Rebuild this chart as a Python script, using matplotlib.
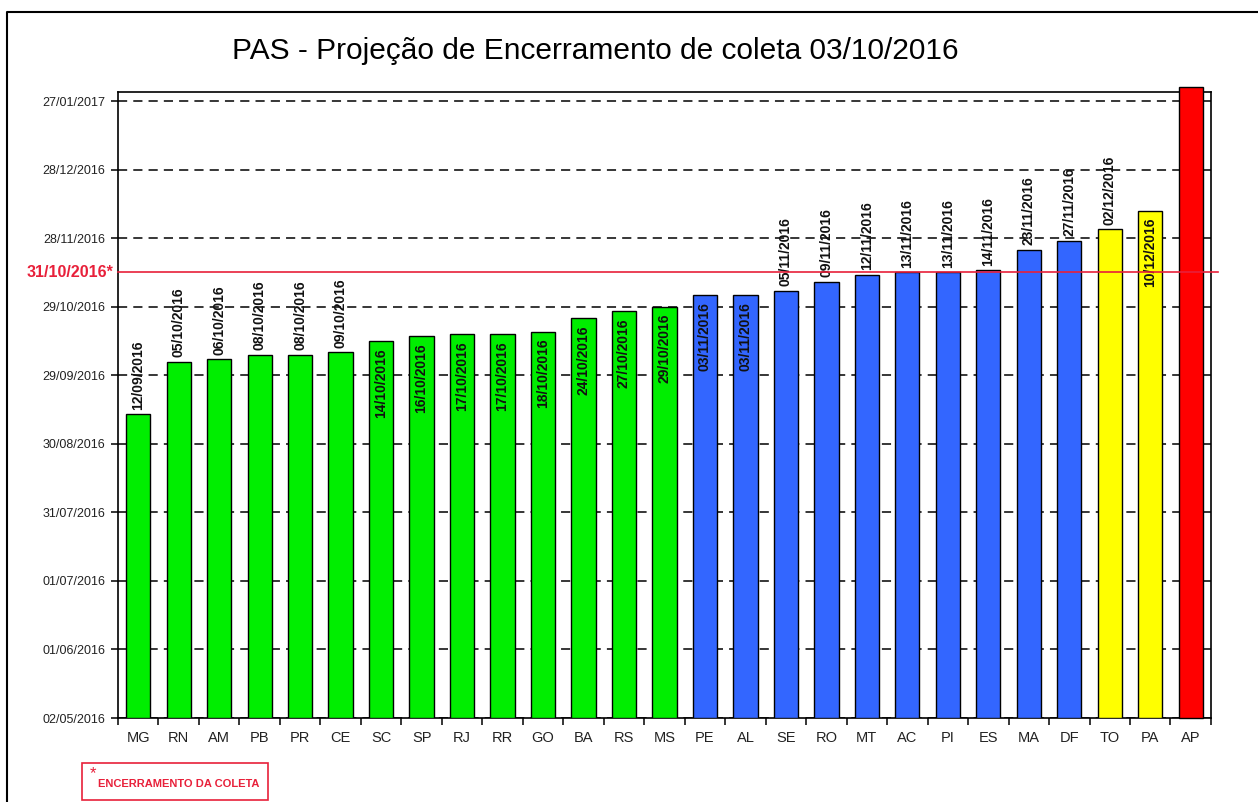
import datetime as dt
import numpy as np
import matplotlib
matplotlib.use("Agg")
import matplotlib.pyplot as plt
import matplotlib.dates as mdates
from matplotlib.patches import Rectangle
from matplotlib.lines import Line2D

plt.rcParams['font.family'] = ['Liberation Sans', 'DejaVu Sans']

# dados
estados = ["MG", "RN", "AM", "PB", "PR", "CE", "SC", "SP", "RJ", "RR", "GO", "BA", "RS", "MS",
           "PE", "AL", "SE", "RO", "MT", "AC", "PI", "ES", "MA", "DF", "TO", "PA", "AP"]
datas = ["12/09/2016", "05/10/2016", "06/10/2016", "08/10/2016", "08/10/2016", "09/10/2016",
         "14/10/2016", "16/10/2016", "17/10/2016", "17/10/2016", "18/10/2016", "24/10/2016",
         "27/10/2016", "29/10/2016", "03/11/2016", "03/11/2016", "05/11/2016", "09/11/2016",
         "12/11/2016", "13/11/2016", "13/11/2016", "14/11/2016", "23/11/2016", "27/11/2016",
         "02/12/2016", "10/12/2016", "02/02/2017"]
grupo = ["verde"] * 14 + ["azul"] * 10 + ["amarelo"] * 2 + ["vermelho"]
rotulo_dentro = [False] * 6 + [True] * 8 + [True, True] + [False] * 8 + [False, True, None]
ticks_y = ["02/05/2016", "01/06/2016", "01/07/2016", "31/07/2016", "30/08/2016",
           "29/09/2016", "29/10/2016", "28/11/2016", "28/12/2016", "27/01/2017"]
limite_rotulo = "31/10/2016"
limite_pos = "13/11/2016"   # onde a linha vermelha aparece no gráfico

CORES = {"verde": "#00EE00", "azul": "#3366FF", "amarelo": "#FFFF00", "vermelho": "#FF0000"}


def d2n(s):
    return mdates.date2num(dt.datetime.strptime(s, "%d/%m/%Y"))


vals = np.array([d2n(s) for s in datas])
base = d2n(ticks_y[0])
topo = d2n("31/01/2017")
x = np.arange(len(estados))

fig = plt.figure(figsize=(12.58, 8.02), dpi=100)
ax = fig.add_axes([0.0938, 0.1047, 0.8688, 0.7806])

# borda externa
fig.add_artist(Line2D([0.0056, 0.0056, 1.0], [0.0, 0.985, 0.985], color="black", lw=1.5,
                      transform=fig.transFigure))

ax.set_ylim(base, topo)
ax.set_xlim(-0.5, len(estados) - 0.5)
ax.set_yticks([d2n(s) for s in ticks_y])
ax.set_yticklabels(ticks_y, fontsize=9, color="#222222")
for v in ax.get_yticks():
    ax.axhline(v, color="black", ls=(0, (6, 4)), lw=1.1, zorder=1)

bars = ax.bar(x, vals - base, bottom=base, width=0.6,
              color=[CORES[g] for g in grupo], edgecolor="black", lw=1.0, zorder=3)
bars[-1].set_clip_on(False)

for i in range(len(estados)):
    if rotulo_dentro[i] is None:
        continue
    if rotulo_dentro[i]:
        ax.text(x[i], vals[i] - 3, datas[i], rotation=90, ha="center", va="top",
                fontsize=10, fontweight="bold", color="#111111", zorder=4)
    else:
        ax.text(x[i], vals[i] + 2, datas[i], rotation=90, ha="center", va="bottom",
                fontsize=10, fontweight="bold", color="#111111", zorder=4)

lim = d2n(limite_pos)
ax.plot([-0.5, len(estados) - 0.33], [lim, lim], color="#E8203A", lw=1.2, zorder=5, clip_on=False)
ax.text(-0.62, lim, limite_rotulo + "*", ha="right", va="center", fontsize=11.5, fontweight="bold",
        color="#E8203A")

ax.set_xticks(x)
ax.set_xticklabels(estados, fontsize=10.5, color="#222222")
ax.set_xticks(np.arange(-0.5, len(estados), 1.0), minor=True)
ax.tick_params(axis="x", which="major", length=0, pad=9)
ax.tick_params(axis="x", which="minor", length=5, width=1.1, direction="out")
ax.tick_params(axis="y", length=5, width=1.1, direction="out", pad=4)
for sp in ax.spines.values():
    sp.set_linewidth(1.2)

fig.text(0.473, 0.937, "PAS - Projeção de Encerramento de coleta 03/10/2016", ha="center",
         va="center", fontsize=21.5)

# caixa da nota
fig.add_artist(Rectangle((0.0652, 0.003), 0.148, 0.046, transform=fig.transFigure,
                         fill=False, edgecolor="#E8203A", lw=1.2))
fig.text(0.071, 0.036, "*", color="#E8203A", fontsize=12, va="center", ha="left")
fig.text(0.078, 0.022, "ENCERRAMENTO DA COLETA", color="#E8203A", fontsize=8, fontweight="bold",
         va="center", ha="left")

fig.savefig("out.png", dpi=100)
